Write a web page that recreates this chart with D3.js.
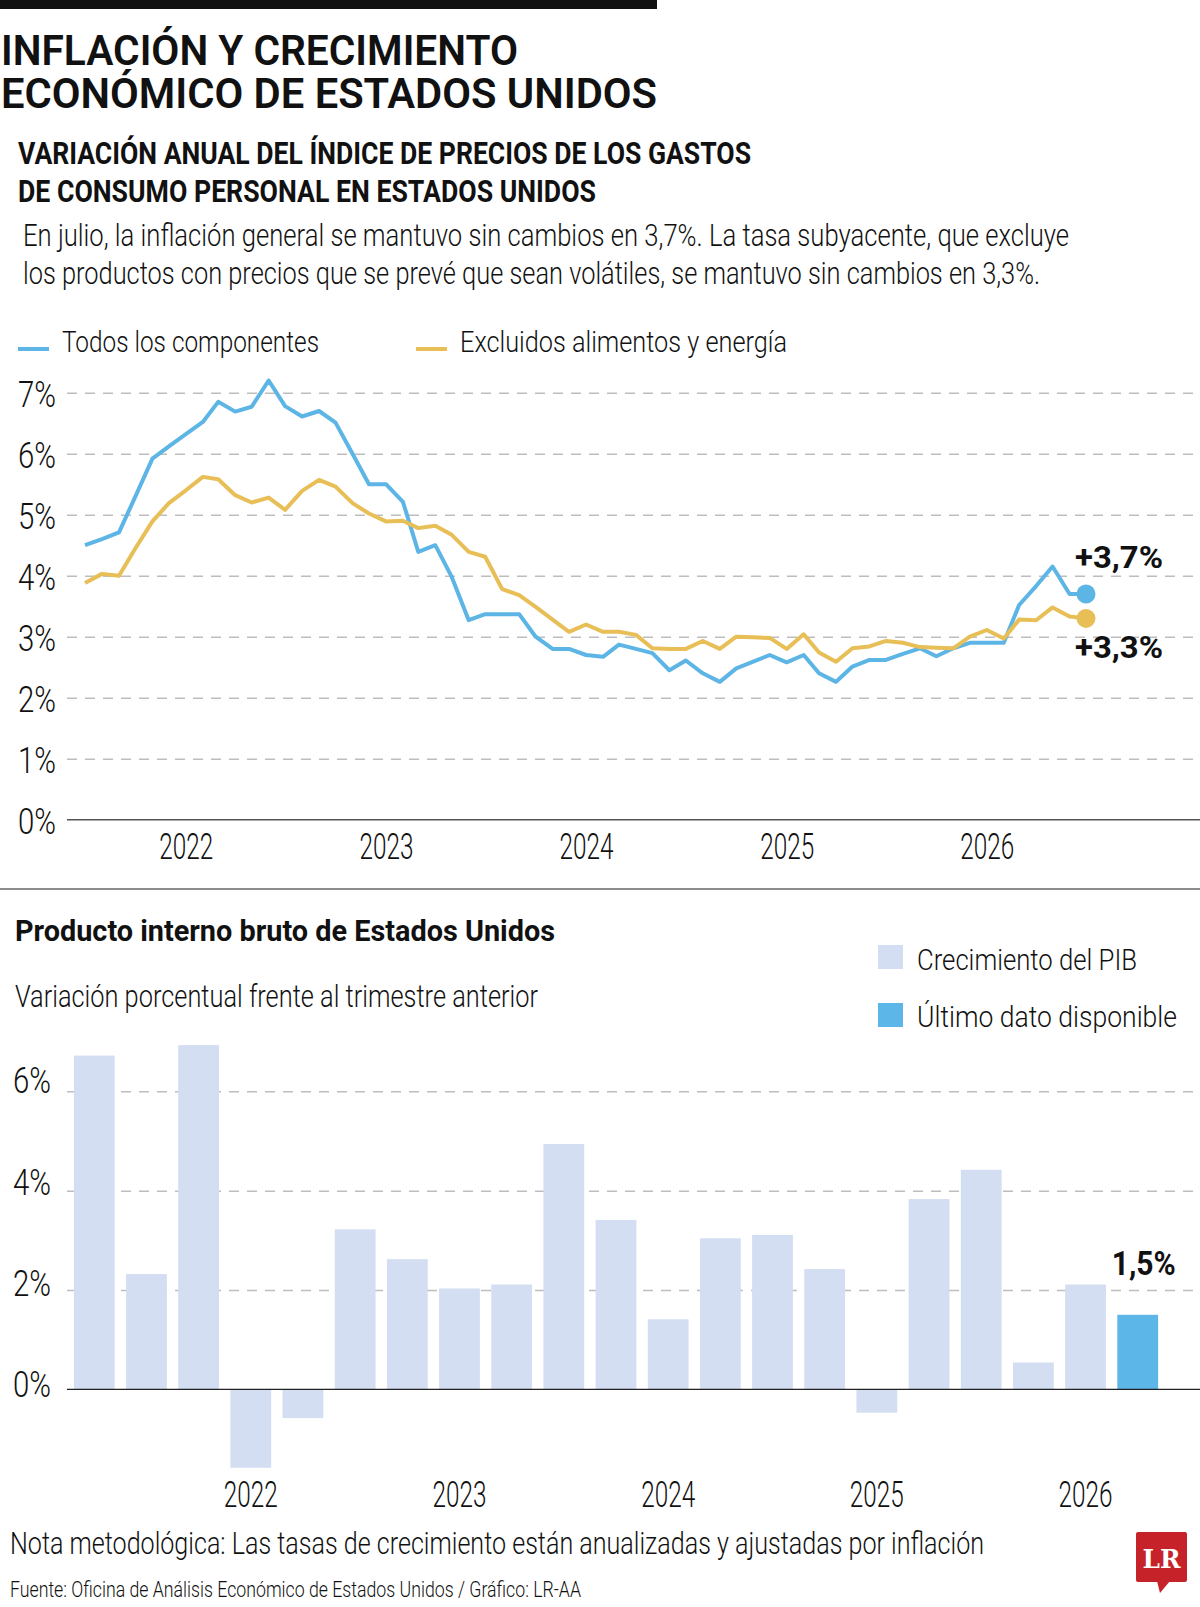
<!DOCTYPE html>
<html>
<head>
<meta charset="utf-8">
<script src="https://cdn.jsdelivr.net/npm/d3@7"></script>
<style>
  body { margin: 0; background: #fff; }
  svg { display: block; }
</style>
</head>
<body>
<div class="chart"></div>
<script>
// Sizes
const width = 1200;
const height = 1607;

// Fonts
const light = "'Liberation Sans Narrow', 'Roboto', 'DejaVu Sans Condensed', sans-serif";
const bold = "'Liberation Sans Narrow', 'Roboto', 'DejaVu Sans Condensed', sans-serif";

// Colors
const blue = '#5db5e6';
const yellow = '#e8be57';
const barLight = '#d3def2';
const barLast = '#5cb6e8';
const grid = '#bdbdbd';

// ---- Inflation data (monthly, from Jul 2021) ----
const pceStart = '2021-07-01';
const pceAll = [4.50, 4.60, 4.71, 5.30, 5.92, 6.12, 6.32, 6.52, 6.85, 6.69, 6.77, 7.20,
  6.78, 6.61, 6.70, 6.51, 6.00, 5.50, 5.50, 5.21, 4.39, 4.50, 3.98, 3.27,
  3.37, 3.37, 3.37, 3.00, 2.80, 2.80, 2.70, 2.67, 2.87, 2.80, 2.73, 2.45,
  2.61, 2.40, 2.26, 2.48, 2.59, 2.70, 2.58, 2.70, 2.40, 2.26, 2.51, 2.62,
  2.62, 2.72, 2.81, 2.68, 2.81, 2.90, 2.90, 2.90, 3.52, 3.83, 4.15, 3.70, 3.70];
const pceCore = [3.88, 4.03, 4.00, 4.45, 4.89, 5.19, 5.40, 5.62, 5.58, 5.32, 5.20, 5.28,
  5.08, 5.39, 5.57, 5.46, 5.19, 5.02, 4.89, 4.90, 4.78, 4.82, 4.67, 4.39,
  4.31, 3.78, 3.68, 3.49, 3.28, 3.08, 3.20, 3.08, 3.08, 3.03, 2.81, 2.80,
  2.80, 2.93, 2.80, 3.00, 2.99, 2.98, 2.80, 3.04, 2.74, 2.59, 2.81, 2.84,
  2.93, 2.90, 2.83, 2.82, 2.81, 3.00, 3.11, 2.97, 3.28, 3.27, 3.48, 3.33, 3.30];
const pceTicks = [0, 1, 2, 3, 4, 5, 6, 7];
const yearTicks = ['2022', '2023', '2024', '2025', '2026'];
const lineLegend = ['Todos los componentes', 'Excluidos alimentos y energía'];
const lineLabels = ['+3,7%', '+3,3%'];

// ---- GDP data (quarterly) ----
const quarters = ['2021T2', '2021T3', '2021T4', '2022T1', '2022T2', '2022T3', '2022T4',
  '2023T1', '2023T2', '2023T3', '2023T4', '2024T1', '2024T2', '2024T3', '2024T4',
  '2025T1', '2025T2', '2025T3', '2025T4', '2026T1', '2026T2'];
const gdp = [6.72, 2.32, 6.93, -1.58, -0.58, 3.22, 2.62, 2.03, 2.11, 4.94, 3.41,
  1.41, 3.04, 3.11, 2.42, -0.47, 3.83, 4.42, 0.54, 2.11, 1.5];
const gdpTicks = [0, 2, 4, 6];
const barLegend = ['Crecimiento del PIB', 'Último dato disponible'];
const lastLabel = '1,5%';

const svg = d3.select('.chart').append('svg')
    .attr('width', width)
    .attr('height', height);

// helper: squeeze a text to an exact width
const fit = (sel, w) => sel.attr('textLength', w).attr('lengthAdjust', 'spacingAndGlyphs');
// helper: condense text by a factor of its own width
const condense = (sel, k) => sel.each(function () {
  const n = this.getComputedTextLength();
  d3.select(this).attr('textLength', n * k).attr('lengthAdjust', 'spacingAndGlyphs');
});
const addText = (x, y, txt, size, weight, w, family) => {
  const t = svg.append('text')
      .attr('x', x).attr('y', y)
      .text(txt)
      .style('font-family', family || light)
      .style('font-size', size + 'px')
      .style('font-weight', weight)
      .attr('fill', '#111');
  if (w) fit(t, w);
  return t;
};

// measure factors for tick labels ("2022" is 54px wide, "7%" is 38px in the original)
const measure = txt => {
  const p = svg.append('text').text(txt)
      .style('font-family', light).style('font-size', '36px').style('font-weight', 300);
  const n = p.node().getComputedTextLength();
  p.remove();
  return n;
};
const yearK = 54 / measure('2022');
const pctK = 38 / measure('7%');

// Header
svg.append('rect').attr('x', 0).attr('y', 0).attr('width', 657).attr('height', 9).attr('fill', '#111');
addText(1, 65, 'INFLACIÓN Y CRECIMIENTO', 42, 600, 517, bold);
addText(1, 108, 'ECONÓMICO DE ESTADOS UNIDOS', 42, 600, 656, bold);
addText(18, 164, 'VARIACIÓN ANUAL DEL ÍNDICE DE PRECIOS DE LOS GASTOS', 32, 700, 733, bold);
addText(18, 202, 'DE CONSUMO PERSONAL EN ESTADOS UNIDOS', 32, 700, 578, bold);
addText(23, 246, 'En julio, la inflación general se mantuvo sin cambios en 3,7%. La tasa subyacente, que excluye', 32, 300, 1046);
addText(23, 284, 'los productos con precios que se prevé que sean volátiles, se mantuvo sin cambios en 3,3%.', 32, 300, 1017);

// Line legend
const lineLegendPos = [{x: 18, tx: 62, w: 257, c: blue}, {x: 416, tx: 460, w: 327, c: yellow}];
lineLegend.forEach((d, i) => {
  const p = lineLegendPos[i];
  svg.append('line').attr('x1', p.x).attr('x2', p.x + 31).attr('y1', 349).attr('y2', 349)
      .attr('stroke', p.c).attr('stroke-width', 4);
  addText(p.tx, 352, d, 30, 300, p.w);
});

// ---- Line chart ----
const months = d3.utcMonth.range(new Date(pceStart), d3.utcMonth.offset(new Date(pceStart), pceAll.length));
const x = d3.scaleUtc()
    .domain([months[0], months[months.length - 1]])
    .range([85, 1086]);
const y = d3.scaleLinear()
    .domain([0, 7])
    .range([819.7, 392.7]);

const lineChart = svg.append('g');

// y axis with gridlines
lineChart.append('g')
    .attr('transform', 'translate(67,0)')
    .call(d3.axisLeft(y).tickValues(pceTicks).tickFormat(d => d + '%').tickSize(-(1197 - 67)).tickPadding(11))
    .call(g => g.select('.domain').remove())
    .call(g => g.selectAll('.tick line')
        .attr('stroke', grid).attr('stroke-width', 1.5).attr('stroke-dasharray', '10 8')
        .filter(d => d === 0).remove())
    .call(g => g.selectAll('.tick text')
        .attr('dy', '0.37em')
        .attr('fill', '#111')
        .style('font-family', light).style('font-size', '36px').style('font-weight', 300)
        .call(condense, pctK));

// baseline
lineChart.append('line')
    .attr('x1', 67).attr('x2', 1200)
    .attr('y1', y(0)).attr('y2', y(0))
    .attr('stroke', '#555').attr('stroke-width', 1.5);

// x axis
lineChart.append('g')
    .attr('transform', `translate(0,${y(0)})`)
    .call(d3.axisBottom(x)
        .tickValues(yearTicks.map(t => new Date(t + '-01-01')))
        .tickFormat(d3.utcFormat('%Y'))
        .tickSize(0).tickPadding(14))
    .call(g => g.select('.domain').remove())
    .call(g => g.selectAll('.tick text')
        .attr('fill', '#111')
        .style('font-family', light).style('font-size', '36px').style('font-weight', 300)
        .call(condense, yearK));

const line = d3.line()
    .x((d, i) => x(months[i]))
    .y(d => y(d));

const series = [{v: pceAll, c: blue}, {v: pceCore, c: yellow}];
lineChart.selectAll('path.series')
    .data(series)
    .join('path')
        .attr('class', 'series')
        .attr('d', d => line(d.v))
        .attr('fill', 'none')
        .attr('stroke', d => d.c)
        .attr('stroke-width', 4)
        .attr('stroke-linejoin', 'round');

const last = months.length - 1;
lineChart.selectAll('circle')
    .data(series)
    .join('circle')
        .attr('cx', x(months[last]))
        .attr('cy', d => y(d.v[last]))
        .attr('r', 9.5)
        .attr('fill', d => d.c);

addText(1075, 568, lineLabels[0], 32, 700, 88, bold);
addText(1075, 658, lineLabels[1], 32, 700, 88, bold);

// separator
svg.append('line').attr('x1', 0).attr('x2', 1200).attr('y1', 889).attr('y2', 889)
    .attr('stroke', '#666').attr('stroke-width', 1.5);

// ---- Bar chart ----
addText(15, 941, 'Producto interno bruto de Estados Unidos', 30, 700, 540, bold);
addText(15, 1007, 'Variación porcentual frente al trimestre anterior', 32, 300, 523);

const barLegendPos = [{y: 945, ty: 970, w: 220, c: barLight}, {y: 1003, ty: 1027, w: 260, c: barLast}];
barLegend.forEach((d, i) => {
  const p = barLegendPos[i];
  svg.append('rect').attr('x', 878).attr('y', p.y).attr('width', 25).attr('height', 24).attr('fill', p.c);
  addText(917, p.ty, d, 30, 300, p.w);
});

const xb = d3.scaleBand()
    .domain(quarters)
    .range([68.2, 1163.8])
    .paddingInner(0.218)
    .paddingOuter(0.109);
const yb = d3.scaleLinear()
    .domain([0, 6])
    .range([1389.3, 1091.3]);

const barChart = svg.append('g');

barChart.append('g')
    .attr('transform', 'translate(67,0)')
    .call(d3.axisLeft(yb).tickValues(gdpTicks).tickFormat(d => d + '%').tickSize(-(1200 - 67)).tickPadding(0))
    .call(g => g.select('.domain').remove())
    .call(g => g.selectAll('.tick line')
        .attr('stroke', grid).attr('stroke-width', 1.5).attr('stroke-dasharray', '10 8')
        .filter(d => d === 0).remove())
    .call(g => g.selectAll('.tick text')
        .attr('x', -54).attr('dy', d => 7.5 - d)
        .attr('text-anchor', 'start')
        .attr('fill', '#111')
        .style('font-family', light).style('font-size', '36px').style('font-weight', 300)
        .call(condense, pctK));

barChart.append('g')
    .selectAll('rect')
    .data(gdp)
    .join('rect')
        .attr('x', (d, i) => xb(quarters[i]))
        .attr('y', d => yb(Math.max(0, d)))
        .attr('width', xb.bandwidth())
        .attr('height', d => Math.abs(yb(d) - yb(0)))
        .attr('fill', (d, i) => i === gdp.length - 1 ? barLast : barLight);

barChart.append('line')
    .attr('x1', 67).attr('x2', 1200)
    .attr('y1', yb(0)).attr('y2', yb(0))
    .attr('stroke', '#222').attr('stroke-width', 1.2);

barChart.append('g')
    .attr('transform', `translate(0,${yb(0)})`)
    .call(d3.axisBottom(xb)
        .tickValues(quarters.filter(q => q.endsWith('T1')))
        .tickFormat(q => q.slice(0, 4))
        .tickSize(0).tickPadding(92))
    .call(g => g.select('.domain').remove())
    .call(g => g.selectAll('.tick text')
        .attr('fill', '#111')
        .style('font-family', light).style('font-size', '36px').style('font-weight', 300)
        .call(condense, yearK));

const lastQ = quarters[quarters.length - 1];
addText(xb(lastQ) + xb.bandwidth() / 2 + 6, 1275, lastLabel, 34, 700, 64, bold)
    .attr('text-anchor', 'middle');

// ---- Footer ----
addText(10, 1554, 'Nota metodológica: Las tasas de crecimiento están anualizadas y ajustadas por inflación', 32, 300, 974);
addText(10, 1597, 'Fuente: Oficina de Análisis Económico de Estados Unidos / Gráfico: LR-AA', 22, 300, 571);

// Logo
const logo = svg.append('g');
logo.append('rect').attr('x', 1136).attr('y', 1532).attr('width', 51).attr('height', 50).attr('rx', 2).attr('fill', '#c62229');
logo.append('path').attr('d', 'M1157,1581 L1170,1581 L1160,1593 Z').attr('fill', '#c62229');
logo.append('text')
    .attr('x', 1161.5).attr('y', 1568)
    .attr('text-anchor', 'middle')
    .text('LR')
    .style('font-family', "'DejaVu Serif', 'Liberation Serif', serif")
    .style('font-size', '26px').style('font-weight', 700)
    .attr('fill', '#fff')
    .call(fit, 38);
</script>
</body>
</html>
